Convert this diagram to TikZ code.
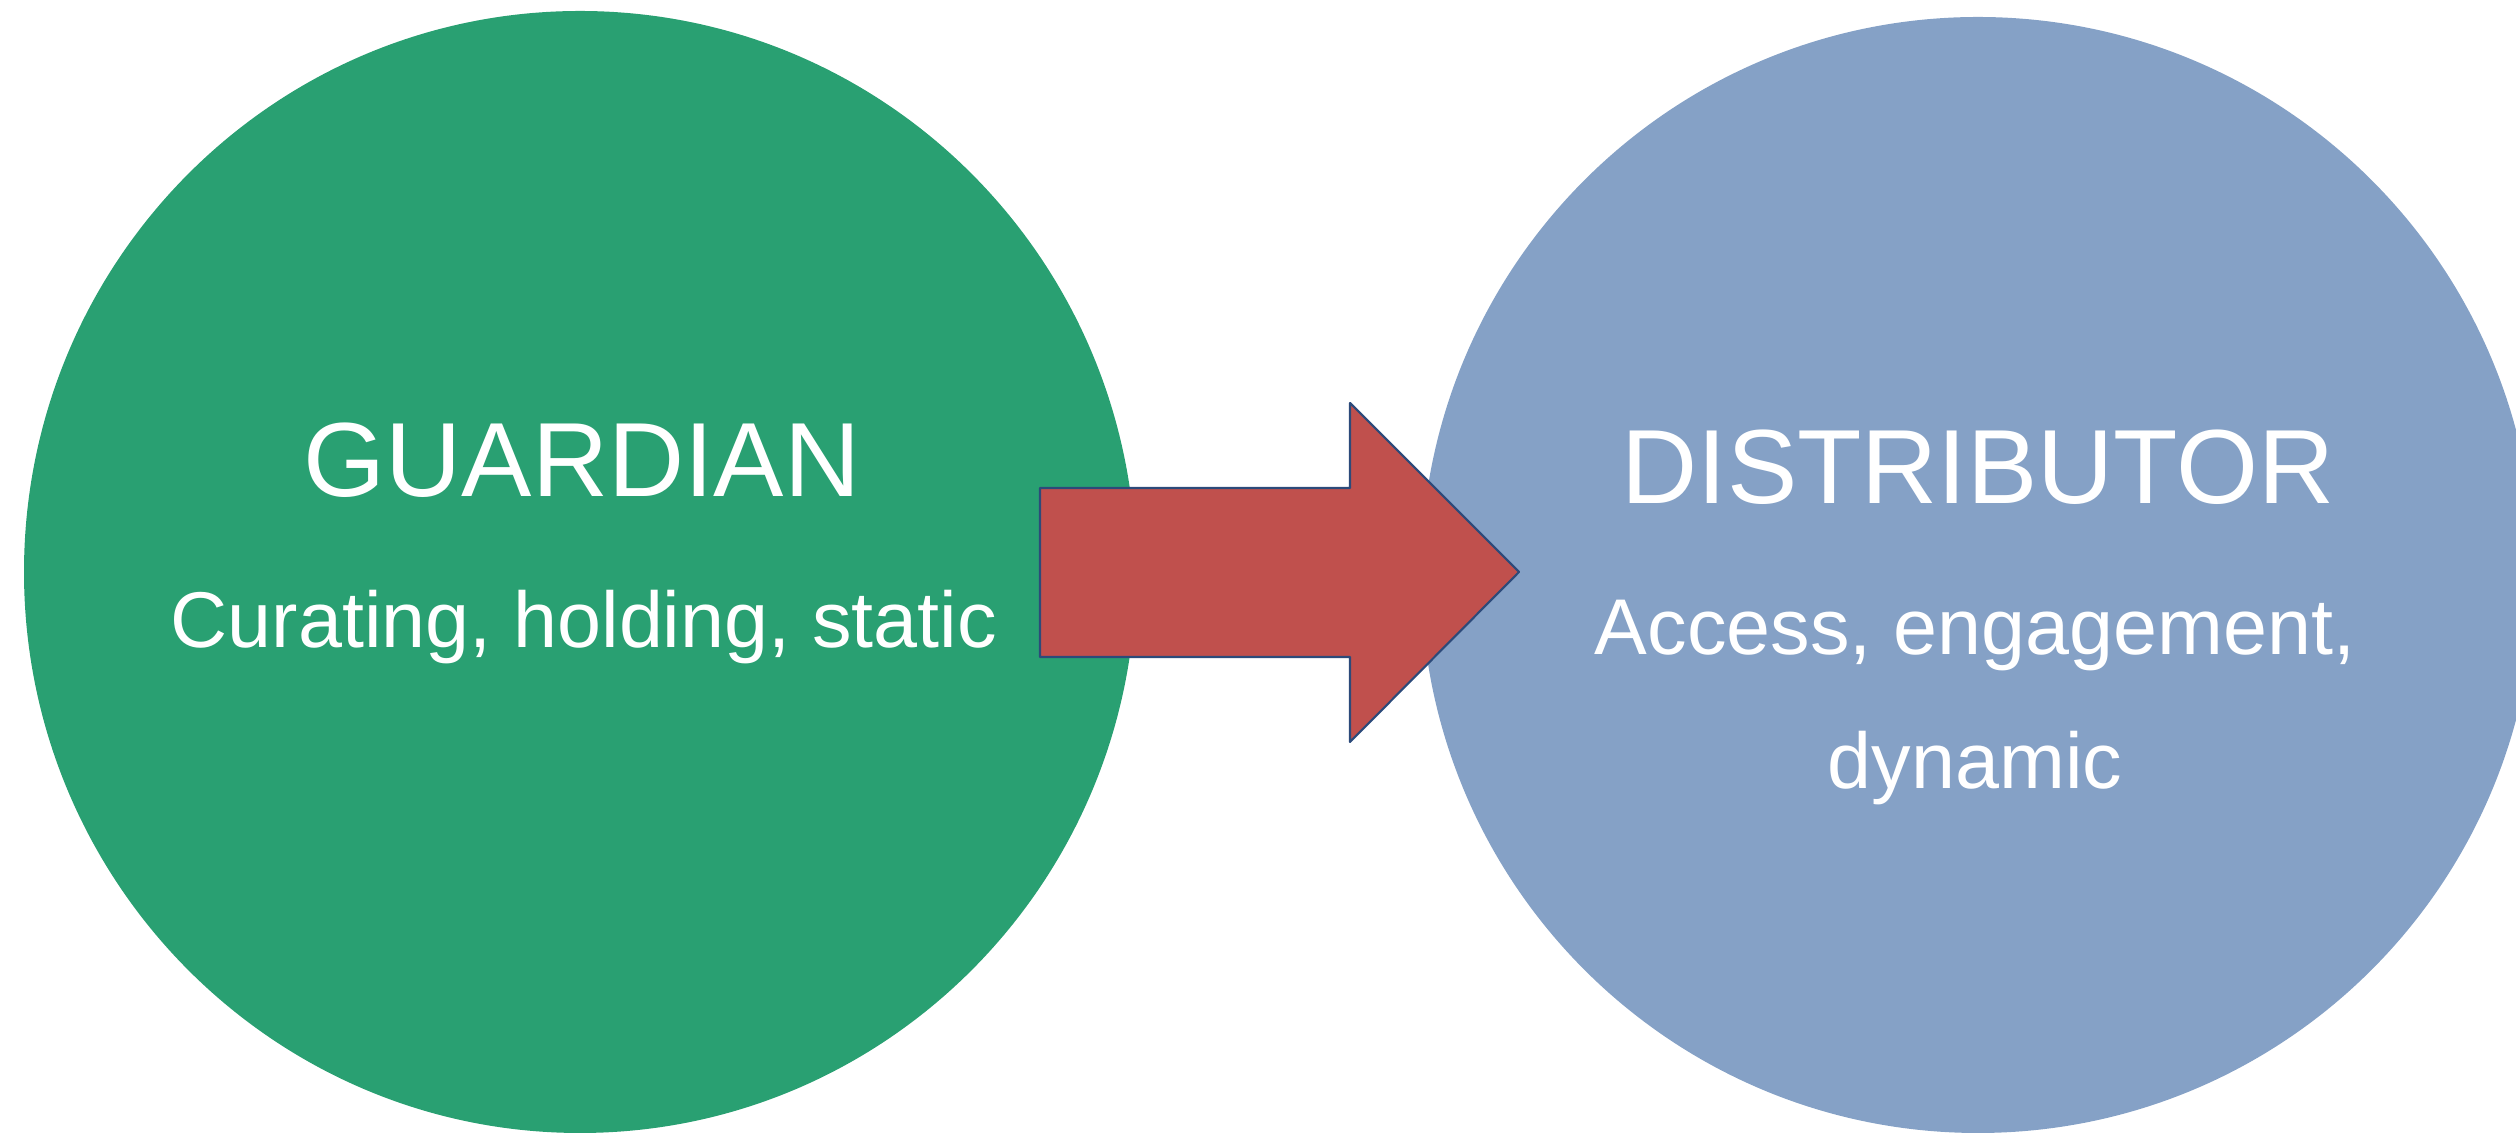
\documentclass[tikz,border=0pt]{standalone}
\usepackage{fontspec}
\setmainfont{Liberation Sans}
\usepackage{tikz}
\usepackage{tkz-euclide}
\usetikzlibrary{calc}

\definecolor{guardgreen}{RGB}{41,160,114}
\definecolor{distblue}{RGB}{133,161,198}
\definecolor{arrowred}{RGB}{192,80,77}
\definecolor{arrowedge}{RGB}{44,74,122}

\tikzset{
  roletitle/.style={text=white,inner sep=0pt,anchor=base,font=\fontsize{30}{36}\selectfont},
  roletext/.style={text=white,inner sep=0pt,anchor=base,font=\fontsize{22.5}{27}\selectfont}
}

\begin{document}
\begin{tikzpicture}
                    \useasboundingbox (0,0) rectangle (25.16,11.35);

                    \tkzDefPoint(5.80,5.63){G}
                    \tkzDefPoint(19.78,5.60){D}
                    \fill[guardgreen] (G) ellipse (5.56 and 5.61);
                    \fill[distblue] (D) ellipse (5.57 and 5.58);

                    \tkzDefPoint(10.40,6.47){A1}
                    \tkzDefPoint(13.50,6.47){A2}
                    \tkzDefPoint(13.50,7.32){A3}
                    \tkzDefPoint(15.19,5.63){A4}
                    \tkzDefPoint(13.50,3.93){A5}
                    \tkzDefPoint(13.50,4.78){A6}
                    \tkzDefPoint(10.40,4.78){A7}
                    \tkzDrawPolygon[fill=arrowred,draw=arrowedge,line width=0.6pt](A1,A2,A3,A4,A5,A6,A7)

                    \node[roletitle] (gtitle) at (5.82,6.38) {GUARDIAN};
                    \node[roletext] (gtext) at (5.84,4.87) {Curating, holding, static};

                    \node[roletitle] (dtitle) at (19.78,6.31) {DISTRIBUTOR};
                    \node[roletext] (dtext) at (19.75,4.80) {Access, engagement,};
                    \node[roletext] (dtextb) at (19.75,3.46) {dynamic};
                \end{tikzpicture}
\end{document}
